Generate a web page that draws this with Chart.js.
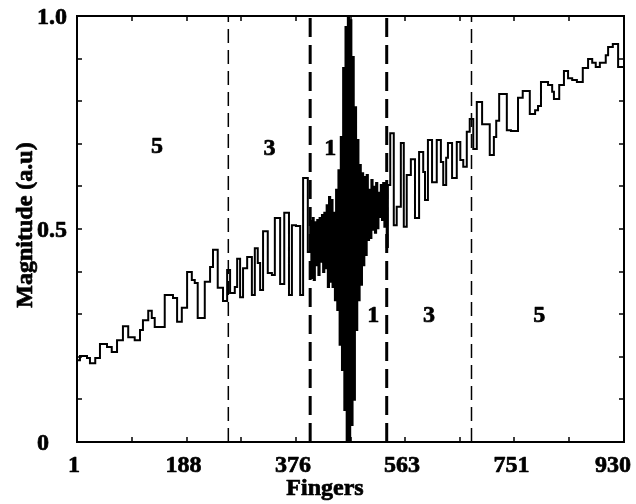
<!DOCTYPE html>
<html>
<head>
<meta charset="utf-8">
<script src="https://cdn.jsdelivr.net/npm/chart.js@4"></script>
<style>
  html, body { margin: 0; padding: 0; background: #fff; }
  canvas { display: block; }
</style>
</head>
<body>
<canvas id="fingerChart" width="636" height="504"></canvas>
<script>
    // Step response along the transducer fingers
    const fingers = [
        1, 6, 18, 23, 32, 40, 52, 60, 69, 79, 88, 99, 108, 113, 122, 128, 133, 150, 164, 171,
        179, 188, 196, 201, 206, 218, 227, 232, 240, 249, 256, 261, 269, 273, 278, 283, 290, 298, 303, 308,
        312, 317, 325, 332, 337, 346, 353, 361, 366, 373, 380, 385, 393,
        // centre section (1 finger pairs)
        397, 399, 401, 403, 405, 407, 409, 411, 413, 415, 417, 419, 421, 423, 425, 427, 429, 431, 433, 435,
        437, 439, 441, 443, 445, 447, 449, 451, 453, 455, 457, 459, 461, 463, 465, 467, 469, 471, 473, 475,
        477, 479, 481, 483, 485, 487, 489, 491, 493, 495, 497, 499, 501, 503, 505, 507, 509, 511, 513, 515,
        517, 519, 521, 523, 525, 527, 529,
        533, 539, 544, 551, 556, 561, 568, 575, 582, 589, 592, 597, 604, 612, 619, 623, 628, 631, 638, 646,
        652, 657, 663, 668, 674, 680, 689, 702, 709, 713, 718, 731, 738, 750, 758, 770, 779, 784, 789, 801,
        808, 811, 820, 828, 835, 842, 850, 860, 869, 876, 882, 889, 899, 903, 911, 920, 930
    ];
    const magnitude = [
        0.192, 0.202, 0.197, 0.185, 0.197, 0.230, 0.223, 0.211, 0.239, 0.272, 0.246, 0.239, 0.263, 0.286, 0.308, 0.291, 0.270, 0.345, 0.338, 0.282,
        0.315, 0.399, 0.380, 0.373, 0.291, 0.376, 0.411, 0.451, 0.362, 0.331, 0.404, 0.350, 0.364, 0.430, 0.340, 0.408, 0.434, 0.345, 0.455, 0.420,
        0.357, 0.495, 0.397, 0.392, 0.526, 0.371, 0.538, 0.345, 0.509, 0.507, 0.345, 0.620, 0.446,
        0.519, 0.385, 0.526, 0.380, 0.516, 0.415, 0.521, 0.392, 0.526, 0.423, 0.533, 0.399, 0.538, 0.408, 0.556, 0.364, 0.575, 0.376, 0.568, 0.364,
        0.538, 0.333, 0.592, 0.310, 0.638, 0.228, 0.716, 0.169, 0.878, 0.075, 0.974, 0.000, 1.000, 0.000, 0.990, 0.040, 0.904, 0.099, 0.786, 0.263,
        0.709, 0.333, 0.650, 0.369, 0.631, 0.415, 0.622, 0.439, 0.627, 0.474, 0.592, 0.479, 0.615, 0.498, 0.599, 0.491, 0.608, 0.502, 0.585, 0.528,
        0.603, 0.521, 0.608, 0.505, 0.608, 0.458, 0.603,
        0.725, 0.509, 0.552, 0.702, 0.505, 0.627, 0.664, 0.526, 0.681, 0.634, 0.568, 0.709, 0.610, 0.709, 0.657, 0.603, 0.667, 0.702, 0.620, 0.704,
        0.662, 0.646, 0.728, 0.758, 0.688, 0.798, 0.746, 0.674, 0.716, 0.754, 0.817, 0.732, 0.730, 0.808, 0.824, 0.770, 0.779, 0.789, 0.845, 0.838,
        0.822, 0.805, 0.838, 0.871, 0.854, 0.850, 0.845, 0.878, 0.899, 0.890, 0.880, 0.890, 0.908, 0.927, 0.934, 0.880, 0.880
    ];

    // Section boundaries (finger index) – thin for 5/3, thick for 3/1
    const thinBounds = [258, 671];
    const thickBounds = [397, 527];

    // Section labels
    const sectionLabels = ['5', '3', '1', '1', '3', '5'];
    const sectionLabelX = [137, 328, 431, 504, 599, 786];
    const sectionLabelY = [0.678, 0.674, 0.674, 0.282, 0.282, 0.282];

    // Axes
    const xMinorTicks = [1, 94, 187, 280, 373, 466, 558, 651, 744, 837, 930];
    const xLabelValues = [1, 187, 373, 558, 744, 930];
    const xTickLabels = ['1', '188', '376', '563', '751', '930'];
    const yMinorTicks = [0, 0.1, 0.2, 0.3, 0.4, 0.5, 0.6, 0.7, 0.8, 0.9, 1.0];
    const yLabelValues = [0, 0.5, 1.0];
    const yTickLabels = ['0', '0.5', '1.0'];

    const FONT = 'bold 24px "Liberation Serif", "Times New Roman", serif';

    function boundDataset(x, width, dash) {
        return {
            data: [{ x: x, y: 0 }, { x: x, y: 1 }],
            borderColor: '#000',
            borderWidth: width,
            borderDash: dash,
            pointRadius: 0,
            fill: false
        };
    }

    // heavy text: fill plus a thin outline
    function boldText(ctx, t, x, y) {
        ctx.fillText(t, x, y);
        ctx.strokeText(t, x, y);
    }

    // Frame, inward ticks, labels and titles
    const axisFrame = {
        id: 'axisFrame',
        afterDraw(chart) {
            const { ctx, chartArea: a, scales: { x, y } } = chart;
            ctx.save();
            ctx.strokeStyle = '#000';
            ctx.lineWidth = 2;
            ctx.strokeRect(a.left, a.top, a.right - a.left, a.bottom - a.top);

            ctx.lineWidth = 1.5;
            ctx.beginPath();
            xMinorTicks.forEach(v => {
                const px = Math.round(x.getPixelForValue(v));
                ctx.moveTo(px, a.bottom); ctx.lineTo(px, a.bottom - 5);
                ctx.moveTo(px, a.top); ctx.lineTo(px, a.top + 5);
            });
            yMinorTicks.forEach(v => {
                const py = Math.round(y.getPixelForValue(v));
                ctx.moveTo(a.left, py); ctx.lineTo(a.left + 5, py);
                ctx.moveTo(a.right, py); ctx.lineTo(a.right - 5, py);
            });
            ctx.stroke();

            ctx.fillStyle = '#000';
            ctx.lineWidth = 0.7;
            ctx.lineJoin = 'round';
            ctx.font = FONT;
            ctx.textBaseline = 'alphabetic';

            ctx.textAlign = 'center';
            xTickLabels.forEach((t, i) => {
                const w = ctx.measureText(t).width;
                let px = x.getPixelForValue(xLabelValues[i]) - 3;
                px = Math.min(px, chart.width - 5 - w / 2);
                boldText(ctx, t, px, a.bottom + 30);
            });

            ctx.textAlign = 'left';
            yTickLabels.forEach((t, i) => {
                boldText(ctx, t, 37, y.getPixelForValue(yLabelValues[i]) + 8);
            });

            ctx.textAlign = 'center';
            boldText(ctx, 'Fingers', a.left + 248, 495);
            ctx.save();
            ctx.translate(32, (a.top + a.bottom) / 2 - 4);
            ctx.rotate(-Math.PI / 2);
            boldText(ctx, 'Magnitude (a.u)', 0, 0);
            ctx.restore();

            sectionLabels.forEach((t, i) => {
                boldText(ctx, t, x.getPixelForValue(sectionLabelX[i]), y.getPixelForValue(sectionLabelY[i]));
            });
            ctx.restore();
        }
    };

    const ctx = document.getElementById('fingerChart').getContext('2d');
    const fingerChart = new Chart(ctx, {
        type: 'line',
        data: {
            datasets: [
                {
                    data: fingers.map((f, i) => ({ x: f, y: magnitude[i] })),
                    borderColor: '#000',
                    borderWidth: 2,
                    stepped: 'before',
                    pointRadius: 0,
                    fill: false
                },
                boundDataset(thinBounds[0], 1.5, [14, 7]),
                boundDataset(thinBounds[1], 1.5, [14, 7]),
                boundDataset(thickBounds[0], 3, [19, 8]),
                boundDataset(thickBounds[1], 3, [19, 8])
            ]
        },
        options: {
            responsive: false,
            animation: false,
            layout: { padding: { left: 77, right: 12, top: 16, bottom: 62 } },
            plugins: {
                legend: { display: false },
                tooltip: { enabled: false }
            },
            scales: {
                x: { type: 'linear', min: 1, max: 930, display: false },
                y: { type: 'linear', min: 0, max: 1, display: false }
            }
        },
        plugins: [axisFrame]
    });
</script>
</body>
</html>
